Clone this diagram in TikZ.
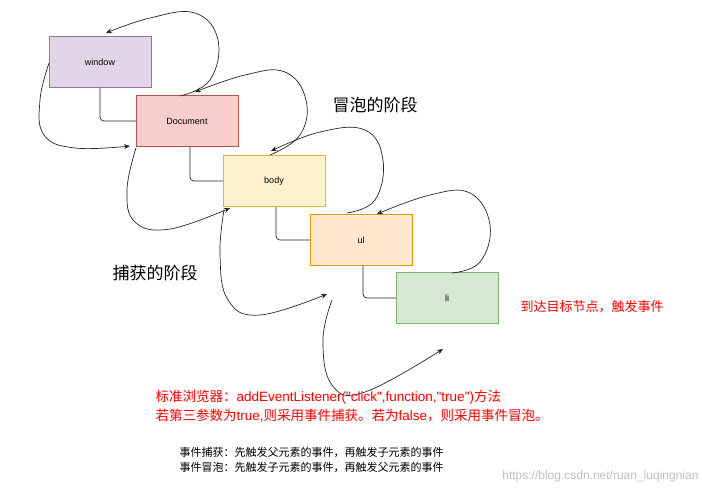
\documentclass[tikz,border=0pt]{standalone}
\usepackage{fontspec}
\setmainfont{Noto Sans CJK SC}
\newfontfamily\lat{Liberation Sans}
\usetikzlibrary{arrows.meta}
\definecolor{pf}{HTML}{E1D5E7}\definecolor{ps}{HTML}{9673A6}
\definecolor{rf}{HTML}{F8CECC}\definecolor{rs}{HTML}{B85450}
\definecolor{yf}{HTML}{FFF2CC}\definecolor{ys}{HTML}{D6B656}
\definecolor{of}{HTML}{FFE6CC}\definecolor{os}{HTML}{D79B00}
\definecolor{gf}{HTML}{D5E8D4}\definecolor{gs}{HTML}{82B366}
\begin{document}
\begin{tikzpicture}[x=1pt,y=-1pt,
  box/.style={draw,minimum width=102pt,minimum height=51pt,inner sep=0pt,font=\lat\fontsize{9}{10}\selectfont},
  elbow/.style={draw=black!85,line width=0.7pt,rounded corners=4pt},
  curv/.style={draw=black!85,line width=0.7pt,-{Stealth[length=6pt,width=5pt]}}]
\useasboundingbox (0,0) rectangle (702,491);
\node[box,draw=ps,fill=pf] (win) at (100,62) {window};
\node[box,draw=rs,fill=rf] (doc) at (187,121) {Document};
\node[box,draw=ys,fill=yf] (body) at (274,181) {body};
\node[box,draw=os,fill=of] (ul) at (361,240) {ul};
\node[box,draw=gs,fill=gf] (li) at (447,298) {li};
\draw[elbow] (win.south) |- (doc.west);
\draw[elbow] ([xshift=3pt]doc.south) |- (body.west);
\draw[elbow] ([xshift=2pt]body.south) |- (ul.west);
\draw[elbow] ([xshift=2pt]ul.south) |- (li.west);
% bubbling
\draw[curv] plot[smooth,tension=0.7] coordinates{(180,96) (210,80) (218,40) (195,13) (150,18) (106,33)};
\draw[curv] plot[smooth,tension=0.7] coordinates{(270,155) (300,135) (306,100) (285,72) (245,75) (195,92)};
\draw[curv] plot[smooth,tension=0.7] coordinates{(347,213) (375,200) (383,160) (365,130) (320,132) (271,151)};
\draw[curv] plot[smooth,tension=0.7] coordinates{(452,273) (480,262) (490,225) (470,193) (430,195) (377,214)};
% capture
\draw[curv] plot[smooth,tension=0.7] coordinates{(49,63) (40,100) (44,135) (75,148) (130,146)};
\draw[curv] plot[smooth,tension=0.7] coordinates{(136,148) (127,190) (135,222) (170,229) (230,208)};
\draw[curv] plot[smooth,tension=0.7] coordinates{(224,210) (220,255) (228,300) (260,315) (327,294)};
\draw[curv] plot[smooth,tension=0.7] coordinates{(332,300) (323,340) (332,385) (365,392) (443,349)};
\node[font=\fontsize{17}{18}\selectfont] (bub) at (375,105) {冒泡的阶段};
\node[font=\fontsize{17}{18}\selectfont] (cap) at (155,273) {捕获的阶段};
\node[text=red,font=\fontsize{13}{14}\selectfont] (tgt) at (592,307) {到达目标节点，触发事件};
\node[text=red,font=\fontsize{13.5}{14}\selectfont,anchor=west] (r1) at (152,397) {标准浏览器：{\lat addEventListener("click",function,"true")}方法};
\node[text=red,font=\fontsize{13.5}{14}\selectfont,anchor=west] (r2) at (152,416) {若第三参数为{\lat true,}则采用事件捕获。若为{\lat false}，则采用事件冒泡。};
\node[font=\fontsize{11}{12}\selectfont,anchor=west] (b1) at (176,452) {事件捕获：先触发父元素的事件，再触发子元素的事件};
\node[font=\fontsize{11}{12}\selectfont,anchor=west] (b2) at (176,467) {事件冒泡：先触发子元素的事件，再触发父元素的事件};
\node[text=black!25,font=\lat\fontsize{12}{13}\selectfont,anchor=east] (wm) at (702,476) {https://blog.csdn.net/ruan\_luqingnian};
\end{tikzpicture}
\end{document}
